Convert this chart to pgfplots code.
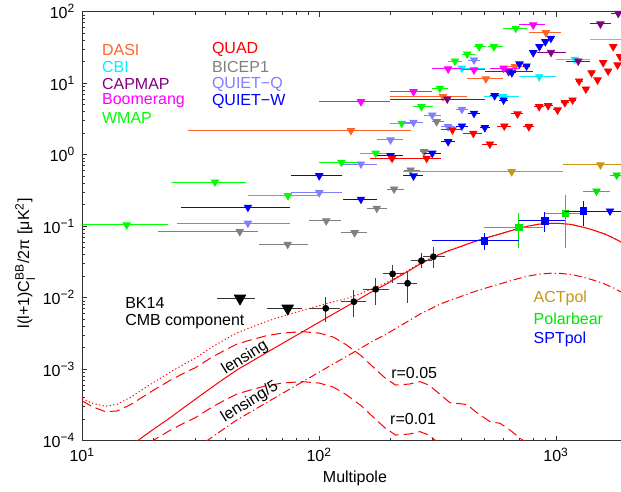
\documentclass[border=0pt]{standalone}
\usepackage{pgfplots}
\pgfplotsset{compat=1.18}
\usepackage{pgfplotstable}
\usepackage{amsmath}
\usepackage{fontspec}
\setmainfont{Liberation Sans}

\definecolor{cDASI}{RGB}{255,100,40}
\definecolor{cCBI}{RGB}{0,240,255}
\definecolor{cCAP}{RGB}{128,0,128}
\definecolor{cBoom}{RGB}{255,0,255}
\definecolor{cWMAP}{RGB}{0,255,0}
\definecolor{cQUAD}{RGB}{255,0,0}
\definecolor{cBIC}{RGB}{128,128,128}
\definecolor{cQQ}{RGB}{128,128,255}
\definecolor{cQW}{RGB}{0,0,255}
\definecolor{cACT}{RGB}{200,150,20}
\definecolor{cPB}{RGB}{0,230,0}
\definecolor{cSPT}{RGB}{0,0,255}

% upper limits: centre, bin edges, value
\pgfplotstableread{
l lo hi v
15.4 10 22.9 0.104
36.3 23.9 49 0.415
73.8 49.9 98.6 0.267
124 99.5 144 0.783
173 149 199 1.05
223 199 249 2.75
270 249 303 4.69
323 298 350 8.49
374 350 402 20.4
421 400 455 25.6
473 450 505 32.4
546 516 597 32.4
675 596 750 58.6
}\wmap

\pgfplotstableread{
l lo hi v
46.2 20.9 55 0.0838
73.6 55.8 89.9 0.0558
107 90.8 124 0.119
141 124 159 0.081
175 159 194 0.178
207 194 229 0.331
243 229 265 0.611
277 265 300 1.10
313 300 335 2.89
}\bicep

\pgfplotstableread{
l lo hi v
50 25 75 0.110
100 76 125 0.294
150 126 175 0.741
200 176 225 1.61
250 226 275 2.84
300 276 325 3.59
350 326 375 2.46
400 376 425 4.31
450 426 475 21.1
}\quietq

\pgfplotstableread{
l lo hi v
50 26 75 0.184
100 76 125 0.508
150 126 175 0.238
200 176 225 0.968
250 226 275 0.504
300 276 325 1.05
350 326 375 1.52
400 376 425 2.52
450 426 475 3.79
500 476 525 2.39
550 526 575 6.68
600 576 625 5.82
650 626 675 14.0
700 676 725 18.6
750 726 775 17.4
800 776 825 26.7
850 826 875 32.4
900 876 925 38.0
950 926 975 42.5
}\quietw

\pgfplotstableread{
l lo hi v
400 298 500 16.2
597 497 698 6.48
848 698 1000 12.3
1199 1000 1387 21.6
2000 1387 2600 41.1
}\cbi

\pgfplotstableread{
l lo hi v
136 28 245 2.17
333 199 419 6.48
505 419 594 11.5
670 594 760 17.0
905 769 1045 50.8
}\dasi

\pgfplotstableread{
l lo hi v
347 199 500 6.01
630 500 800 14.5
951 832 1098 27.0
1239 1098 1387 20.4
1537 1387 1700 67.3
1828 1700 2200 95
}\capmap

\pgfplotstableread{
l lo hi v
150 100 199 5.51
250 199 300 7.61
350 300 400 15.8
450 400 500 15.3
600 525 694 16.2
800 700 896 65.2
}\boom

\pgfplotstableread{
l lo hi v
203 164 244 0.891
284 244 325 0.891
365 325 405 2.22
447 405 484 1.99
525 484 565 1.41
604 565 645 2.52
687 645 727 3.71
767 727 808 2.46
848 808 886 4.69
925 886 970 4.84
1014 970 1050 4.22
1088 1050 1130 5.34
1173 1130 1210 5.82
1250 1210 1292 10.7
1334 1292 1372 8.29
1410 1372 1452 14.0
1495 1452 1537 11.1
1579 1537 1618 19.4
1657 1618 1700 14.8
1741 1700 1778 32.4
1816 1778 1840 18.0
1860 1840 1900 23.5
}\quad

\pgfplotstableread{
l lo hi v
649 225 1070 0.578
1537 1070 2200 0.718
}\actpol

\pgfplotstableread{
l lo hi v
1480 1303 1690 0.31
1800 1690 2200 0.52
}\pblim

\pgfplotstableread{
l lo hi v
1687 1503 2200 0.163
}\sptlim

\pgfplotstableread{
l lo hi v
46.3 36.9 53.6 0.0098
73.6 60 84.3 0.0071
}\bklim

% detections: centre, bin edges, value, value range
\pgfplotstableread{
l lo hi v vlo vhi
696 497 881 0.0953 0.049 0.151
1096 898 1303 0.151 0.049 0.273
}\pbdet

\pgfplotstableread{
l lo hi v vlo vhi
497 298 698 0.0621 0.047 0.080
896 698 1089 0.119 0.082 0.160
1300 1089 1503 0.163 0.102 0.225
}\sptdet

\pgfplotstableread{
l lo hi v vlo vhi
106.5 91.5 122 0.0071 0.0046 0.0103
140 124 158 0.00879 0.00542 0.0128
173 153 197 0.0131 0.0079 0.0187
204 185 226 0.0215 0.0159 0.0287
236 212 259 0.0159 0.0084 0.0231
270 244 298 0.0329 0.0258 0.0418
303 275 339 0.0374 0.0258 0.0517
}\bkdet

% model spectra: lensing BB and r=0.05 tensor BB
\pgfplotstableread{
l lens tens
10 2.8e-5 3.6e-4
11 3.5e-5 3.0e-4
12.5 4.8e-5 2.55e-4
14 6.2e-5 2.6e-4
16 8.5e-5 3.2e-4
18 1.13e-4 4.1e-4
20 1.45e-4 5.1e-4
23.5 2.1e-4 7.0e-4
27 2.95e-4 8.9e-4
30 3.8e-4 1.05e-3
35 5.5e-4 1.45e-3
40 7.5e-4 1.85e-3
45 9.8e-4 2.25e-3
50 1.2e-3 2.5e-3
60 1.71e-3 2.95e-3
70 2.3e-3 3.2e-3
85 3.33e-3 3.35e-3
100 4.55e-3 3.2e-3
115 5.96e-3 2.8e-3
130 7.5e-3 2.2e-3
150 9.9e-3 1.55e-3
170 1.26e-2 1.05e-3
190 1.52e-2 7.5e-4
210 1.85e-2 6.0e-4
240 2.4e-2 6.2e-4
266 2.95e-2 6.7e-4
290 3.4e-2 6.0e-4
320 4.0e-2 4.6e-4
356 4.6e-2 3.4e-4
390 5.1e-2 3.3e-4
420 5.6e-2 3.2e-4
460 6.2e-2 2.5e-4
525 7.1e-2 1.85e-4
580 7.8e-2 1.75e-4
640 8.6e-2 1.4e-4
700 9.35e-2 1.1e-4
760 0.100 9e-5
850 0.107 6e-5
950 0.110 1e-6
1050 0.109 1e-7
1150 0.106 1e-7
1300 0.097 1e-7
1430 0.0885 1e-7
1600 0.078 1e-7
1750 0.068 1e-7
1900 0.059 1e-7
}\theory

\pgfplotsset{
  lim/.style={only marks, color=#1, mark=triangle*, mark size=2.1pt,
    mark options={rotate=180, fill=#1, draw=#1},
    error bars/x dir=both, error bars/x explicit, error bars/error mark=none,
    error bars/error bar style={line width=0.5pt, #1}},
  det/.style={only marks, color=#1, mark=square*, mark size=1.6pt,
    mark options={fill=#1, draw=#1},
    error bars/x dir=both, error bars/x explicit,
    error bars/y dir=both, error bars/y explicit, error bars/error mark=none,
    error bars/error bar style={line width=0.5pt, #1}},
}
\newcommand{\lims}[2]{\addplot[lim=#1] table[x=l, y=v,
  x error plus expr=\thisrow{hi}-\thisrow{l},
  x error minus expr=\thisrow{l}-\thisrow{lo}] {#2};}
\newcommand{\dets}[2]{\addplot[det=#1] table[x=l, y=v,
  x error plus expr=\thisrow{hi}-\thisrow{l},
  x error minus expr=\thisrow{l}-\thisrow{lo},
  y error plus expr=\thisrow{vhi}-\thisrow{v},
  y error minus expr=\thisrow{v}-\thisrow{vlo}] {#2};}

\begin{document}
\begin{tikzpicture}[font=\fontsize{8}{9.6}\selectfont]
\begin{axis}[
  at={(41.15pt,25.65pt)}, anchor=south west,
  scale only axis, width=269.4pt, height=214.5pt,
  xmode=log, ymode=log,
  xmin=10, xmax=1880, ymin=1e-4, ymax=100,
  axis x line*=box, axis y line*=left,
  axis line style={black!80, line width=0.5pt},
  tick align=inside, major tick length=2.6pt, minor tick length=1.6pt,
  every tick/.style={black!80, line width=0.4pt},
  xtick={10,100,1000},
  xticklabels={10\textsuperscript{1},10\textsuperscript{2},10\textsuperscript{3}},
  ytick={1e-4,1e-3,1e-2,1e-1,1,10,100},
  yticklabels={10\textsuperscript{−4},10\textsuperscript{−3},10\textsuperscript{−2},
    10\textsuperscript{−1},10\textsuperscript{0},10\textsuperscript{1},10\textsuperscript{2}},
  xlabel={Multipole},
  xlabel style={at={(axis description cs:0.506,-0.087)}, anchor=center},
  ylabel={l(l+1)C$^{\text{BB}}_{\text{l}}$/2π [μK$^{\text{2}}$]},
  ylabel style={at={(axis description cs:-0.106,0.414)}, anchor=center},
  clip mode=individual,
]
% theory curves
\addplot[cQUAD, line width=0.5pt] table[x=l, y=lens] {\theory};
\addplot[cQUAD, line width=0.5pt, dash pattern=on 0.6pt off 1.2pt]
  table[x=l, y expr=\thisrow{lens}+\thisrow{tens}] {\theory};
\addplot[cQUAD, line width=0.5pt, dash pattern=on 5pt off 2.5pt]
  table[x=l, y=tens] {\theory};
\addplot[cQUAD, line width=0.5pt, dash pattern=on 5pt off 2.5pt]
  table[x=l, y expr=\thisrow{tens}/5] {\theory};
\addplot[cQUAD, line width=0.5pt, dash pattern=on 4pt off 1.5pt on 0.6pt off 1.5pt]
  table[x=l, y expr=\thisrow{lens}/5] {\theory};

% upper limits
\lims{cDASI}{\dasi}
\lims{cCBI}{\cbi}
\lims{cCAP}{\capmap}
\lims{cBoom}{\boom}
\lims{cWMAP}{\wmap}
\lims{cBIC}{\bicep}
\lims{cQQ}{\quietq}
\lims{cQW}{\quietw}
\lims{cQUAD}{\quad}
\lims{cACT}{\actpol}
\lims{cPB}{\pblim}
\lims{cSPT}{\sptlim}

% detections
\dets{cPB}{\pbdet}
\dets{cSPT}{\sptdet}

% BK14
\addplot[only marks, black, mark=triangle*, mark size=3.3pt,
  mark options={rotate=180, fill=black},
  error bars/x dir=both, error bars/x explicit, error bars/error mark=none,
  error bars/error bar style={line width=0.5pt, black!80}]
  table[x=l, y=v, x error plus expr=\thisrow{hi}-\thisrow{l},
    x error minus expr=\thisrow{l}-\thisrow{lo}] {\bklim};
\addplot[only marks, black, mark=*, mark size=1.5pt,
  error bars/x dir=both, error bars/x explicit,
  error bars/y dir=both, error bars/y explicit, error bars/error mark=none,
  error bars/error bar style={line width=0.5pt, black!75}]
  table[x=l, y=v, x error plus expr=\thisrow{hi}-\thisrow{l},
    x error minus expr=\thisrow{l}-\thisrow{lo},
    y error plus expr=\thisrow{vhi}-\thisrow{v},
    y error minus expr=\thisrow{v}-\thisrow{vlo}] {\bkdet};

% labels
\begin{scope}[every node/.append style={anchor=west, inner xsep=0pt}]
\node[text=cDASI] at (axis description cs:0.036,0.911) {DASI};
\node[text=cCBI]  at (axis description cs:0.036,0.871) {CBI};
\node[text=cCAP]  at (axis description cs:0.036,0.831) {CAPMAP};
\node[text=cBoom] at (axis description cs:0.036,0.792) {Boomerang};
\node[text=cWMAP] at (axis description cs:0.036,0.752) {WMAP};
\node[text=cQUAD] at (axis description cs:0.240,0.911) {QUAD};
\node[text=cBIC]  at (axis description cs:0.240,0.871) {BICEP1};
\node[text=cQQ]   at (axis description cs:0.240,0.831) {QUIET−Q};
\node[text=cQW]   at (axis description cs:0.240,0.792) {QUIET−W};
\node at (axis description cs:0.079,0.321) {BK14};
\node at (axis description cs:0.079,0.277) {CMB component};
\node[text=cACT] at (axis description cs:0.837,0.332) {ACTpol};
\node[text=cPB]  at (axis description cs:0.837,0.284) {Polarbear};
\node[text=cSPT] at (axis description cs:0.837,0.236) {SPTpol};
\end{scope}
\node[rotate=32, inner sep=0pt] at (axis description cs:0.302,0.193) {lensing};
\node[rotate=32, inner sep=0pt] at (axis description cs:0.311,0.090) {lensing/5};
\node[inner sep=0pt] at (axis description cs:0.616,0.158) {r=0.05};
\node[inner sep=0pt] at (axis description cs:0.614,0.050) {r=0.01};
\end{axis}
\pgfresetboundingbox
\path (0,0) rectangle (310.5pt,246pt);
\end{tikzpicture}
\end{document}
